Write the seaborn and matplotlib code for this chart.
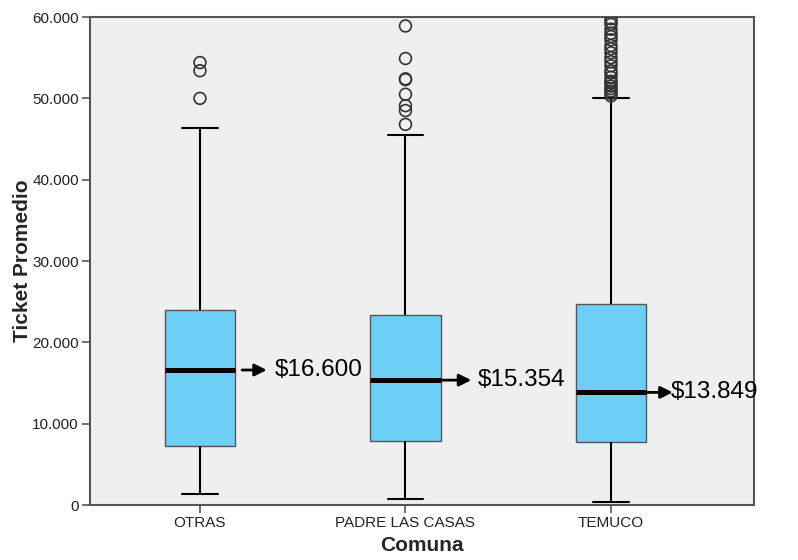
import pandas as pd
import matplotlib.pyplot as plt
import seaborn as sns

# summary values (pesos)
categories = ["OTRAS", "PADRE LAS CASAS", "TEMUCO"]
whisker_low = [1300, 700, 400]
q1 = [7300, 7900, 7700]
medians = [16600, 15354, 13849]
q3 = [24000, 23400, 24700]
whisker_high = [46300, 45500, 50100]
median_labels = ["$16.600", "$15.354", "$13.849"]

outliers_otras = [50000, 53400, 54400]
outliers_padre = [46800, 48500, 49100, 50500, 52300, 52400, 54900, 58900]
outliers_temuco = [50300, 50600, 50900, 51200, 51500, 51900, 52100, 52600, 53100,
                   53400, 54000, 54500, 55000, 55600, 56100, 56500, 57200, 57600,
                   58000, 58500, 59100, 59400, 59800]

# five numbers per group -> quartiles come out exactly with linear percentiles
rows = []
for i, c in enumerate(categories):
    for v in [whisker_low[i], q1[i], medians[i], q3[i], whisker_high[i]]:
        rows.append({"Comuna": c, "Ticket": v})
box_df = pd.DataFrame(rows)

out_rows = []
for c, vals in zip(categories, [outliers_otras, outliers_padre, outliers_temuco]):
    for v in vals:
        out_rows.append({"Comuna": c, "Ticket": v})
out_df = pd.DataFrame(out_rows)

sns.set_style("ticks")
plt.rcParams['font.family'] = ['Liberation Sans', 'DejaVu Sans']

fig = plt.figure(figsize=(7.98, 5.6), dpi=100)
ax = fig.add_axes([0.1128, 0.0982, 0.8321, 0.8714])
ax.set_facecolor('#efefef')

sns.boxplot(data=box_df, x="Comuna", y="Ticket", order=categories, ax=ax,
            whis=(0, 100), showfliers=False, width=0.345, color='#6dcff6',
            saturation=1, linecolor='black', linewidth=1.5,
            boxprops={'edgecolor': '#555555', 'linewidth': 1.0},
            medianprops={'color': 'black', 'linewidth': 3.6},
            whiskerprops={'color': 'black', 'linewidth': 1.5},
            capprops={'color': 'black', 'linewidth': 1.5})

sns.stripplot(data=out_df, x="Comuna", y="Ticket", order=categories, ax=ax,
              jitter=False, color='white', edgecolor='#333333', linewidth=1.2,
              size=8.5, zorder=5)
for coll in ax.collections:
    coll.set_facecolor('none')

# arrows with median labels
arrow_offsets = [(0.205, 0.325, 0.365), (0.18, 0.32, 0.35), (0.175, 0.30, 0.29)]
for i, (lab, m) in enumerate(zip(median_labels, medians)):
    t0, t1, tx = arrow_offsets[i]
    ax.annotate('', xy=(i + t1, m), xytext=(i + t0, m),
                arrowprops=dict(arrowstyle='-|>', color='black', lw=2,
                                mutation_scale=18, shrinkA=0, shrinkB=0))
    ax.text(i + tx, m, lab, fontsize=17.5, va='center', ha='left', color='black')

ax.set_xlim(-0.535, 2.696)
ax.set_ylim(0, 60000)
ax.set_yticks([0, 10000, 20000, 30000, 40000, 50000, 60000])
ax.set_yticklabels(['0', '10.000', '20.000', '30.000', '40.000', '50.000', '60.000'])

for s in ax.spines.values():
    s.set_visible(True)
    s.set_color('#555555')
    s.set_linewidth(1.5)
ax.tick_params(axis='both', direction='out', length=6, width=1.2, color='#555555',
               labelsize=11, labelcolor='#222222', pad=2)

ax.set_xlabel('Comuna', fontsize=15, fontweight='bold', labelpad=4)
ax.set_ylabel('Ticket Promedio', fontsize=15, fontweight='bold', labelpad=0)

plt.savefig('out.png', dpi=100)
